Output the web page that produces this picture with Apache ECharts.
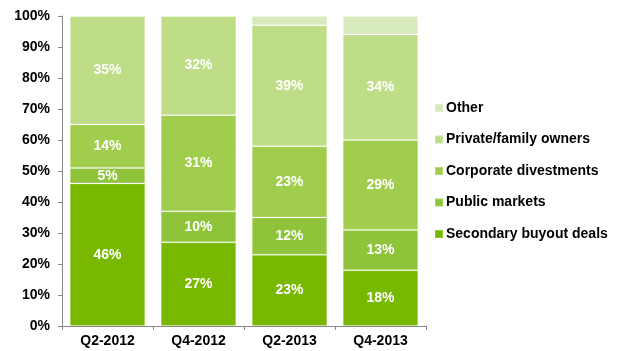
<!DOCTYPE html>
<html>
<head>
<meta charset="utf-8">
<script src="https://cdn.jsdelivr.net/npm/echarts@6/dist/echarts.min.js"></script>
<style>
  html, body { margin: 0; padding: 0; background: #fff; }
  #chart { width: 620px; height: 351px; }
</style>
</head>
<body>
<div id="chart"></div>
<script>
// Quarters on the x axis
const categories = ['Q2-2012', 'Q4-2012', 'Q2-2013', 'Q4-2013'];

// Share of deals by source (percent)
const secondaryBuyout = [46, 27, 23, 18];
const publicMarkets = [5, 10, 12, 13];
const corporateDivestments = [14, 31, 23, 29];
const privateFamily = [35, 32, 39, 34];
const other = [0, 0, 3, 6];

const yTicks = [0, 10, 20, 30, 40, 50, 60, 70, 80, 90, 100];

const seriesDefs = [
  { name: 'Secondary buyout deals', data: secondaryBuyout, color: '#78b800', label: true },
  { name: 'Public markets', data: publicMarkets, color: '#8fc43a', label: true },
  { name: 'Corporate divestments', data: corporateDivestments, color: '#a1cd4d', label: true },
  { name: 'Private/family owners', data: privateFamily, color: '#bedd86', label: true },
  { name: 'Other', data: other, color: '#d7eabb', label: false }
];

const chart = echarts.init(document.getElementById('chart'));

chart.setOption({
  animation: false,
  textStyle: { fontFamily: 'Liberation Sans, Arial, sans-serif' },
  grid: { left: 62, right: 194, top: 16, bottom: 25 },
  legend: {
    orient: 'vertical',
    left: 434,
    top: 101,
    padding: 0,
    itemWidth: 8,
    itemHeight: 8,
    itemGap: 17.5,
    icon: 'rect',
    data: seriesDefs.map(s => s.name).reverse(),
    textStyle: { fontSize: 14, fontWeight: 'bold', color: '#000', padding: [0, 0, 0, -2] }
  },
  xAxis: {
    type: 'category',
    data: categories,
    axisLine: { lineStyle: { color: '#888', width: 1 } },
    axisTick: { show: true, alignWithLabel: false, length: 4, lineStyle: { color: '#888' } },
    axisLabel: { color: '#000', fontSize: 14, fontWeight: 'bold', margin: 8 }
  },
  yAxis: {
    type: 'value',
    min: 0,
    max: 100,
    interval: 10,
    axisLine: { show: true, lineStyle: { color: '#888', width: 1 } },
    axisTick: { show: true, length: 4, lineStyle: { color: '#888' } },
    splitLine: { show: false },
    axisLabel: {
      color: '#000', fontSize: 14, fontWeight: 'bold', margin: 12,
      formatter: v => (yTicks.includes(v) ? v + '%' : '')
    }
  },
  series: seriesDefs.map(s => ({
    name: s.name,
    type: 'bar',
    stack: 'total',
    barCategoryGap: '17%',
    data: s.data,
    itemStyle: { color: s.color, borderColor: 'rgba(255,255,255,0.22)', borderWidth: 1 },
    label: {
      show: s.label,
      position: 'inside',
      color: '#fff',
      fontSize: 14,
      fontWeight: 'bold',
      formatter: p => (p.value > 0 ? p.value + '%' : '')
    }
  }))
});
</script>
</body>
</html>
